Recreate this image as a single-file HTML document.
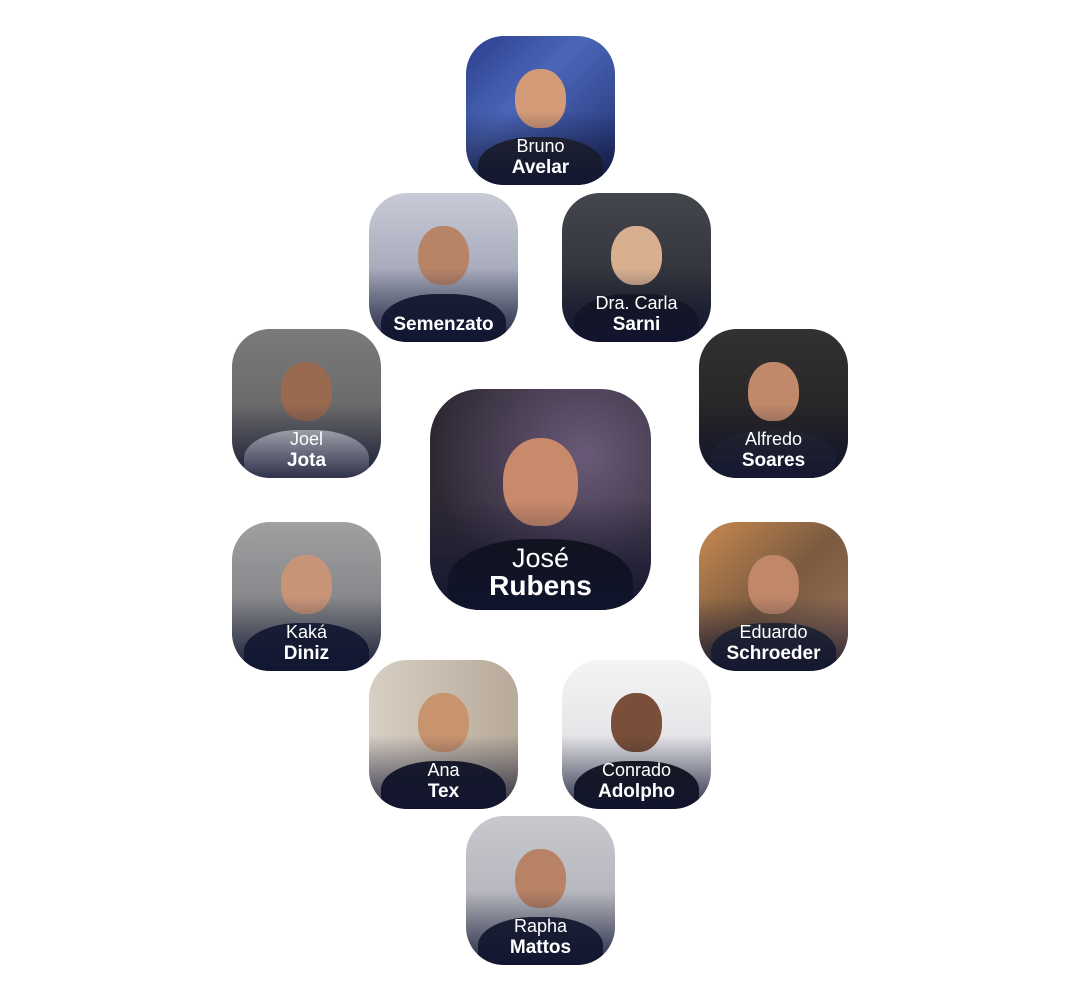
<!DOCTYPE html>
<html><head><meta charset="utf-8"><style>
html,body{margin:0;padding:0;background:#fff;width:1080px;height:1001px;overflow:hidden}
.t{position:absolute;width:149px;height:149px;border-radius:38px;overflow:hidden;font-family:"Liberation Sans",sans-serif;color:#fff;text-align:center}
.t .bg{position:absolute;inset:0}
.t .head{position:absolute;left:50%;top:22%;width:34%;height:40%;margin-left:-17%;border-radius:48% 48% 45% 45%;background:#c9906f}
.t .body{position:absolute;left:50%;bottom:-10%;width:84%;height:42%;margin-left:-42%;border-radius:45% 45% 0 0;background:#1c1e2a}
.t .fade{position:absolute;left:0;right:0;bottom:0;height:50%;background:linear-gradient(to bottom,rgba(20,24,50,0),rgba(16,20,48,.85))}
.t .txt{position:absolute;left:0;right:0;bottom:7px;font-size:18px;line-height:21px}
.t .txt b{font-size:19px;font-weight:bold;display:block}
.big{width:221px;height:221px;border-radius:50px}
.big .txt{font-size:27px;line-height:28px;bottom:10px}
.big .txt b{font-size:28px}
</style></head><body>

<div class="t" style="left:466px;top:36px"><div class="bg" style="background:linear-gradient(135deg,#2b3f8c,#4b66b8 40%,#203070)"></div><div class="head" style="background:#d49b78"></div><div class="body" style="background:#222630"></div><div class="fade"></div><div class="txt">Bruno<b>Avelar</b></div></div>

<div class="t" style="left:369px;top:193px"><div class="bg" style="background:linear-gradient(to bottom,#c8cad6,#8a8fa2)"></div><div class="head" style="background:#b88468"></div><div class="body" style="background:#1d2236"></div><div class="fade"></div><div class="txt"><b>Semenzato</b></div></div>

<div class="t" style="left:562px;top:193px"><div class="bg" style="background:linear-gradient(to bottom,#44464e,#25262e)"></div><div class="head" style="background:#d8b090"></div><div class="body" style="background:#16171f"></div><div class="fade"></div><div class="txt">Dra. Carla<b>Sarni</b></div></div>

<div class="t" style="left:232px;top:329px"><div class="bg" style="background:linear-gradient(to bottom,#7a7a7a,#5c5c5e)"></div><div class="head" style="background:#9a6a50"></div><div class="body" style="background:#d8d8dc"></div><div class="fade"></div><div class="txt">Joel<b>Jota</b></div></div>

<div class="t" style="left:699px;top:329px"><div class="bg" style="background:linear-gradient(to bottom,#333030,#1f1e20)"></div><div class="head" style="background:#c08a6a"></div><div class="body" style="background:#2a2a2e"></div><div class="fade"></div><div class="txt">Alfredo<b>Soares</b></div></div>

<div class="t big" style="left:430px;top:389px"><div class="bg" style="background:radial-gradient(circle at 70% 30%,#6a5a78,#2e2834 70%)"></div><div class="head" style="background:#c88a6a"></div><div class="body" style="background:#121218"></div><div class="fade"></div><div class="txt">José<b>Rubens</b></div></div>

<div class="t" style="left:232px;top:522px"><div class="bg" style="background:linear-gradient(to bottom,#a0a0a2,#707276)"></div><div class="head" style="background:#c89478"></div><div class="body" style="background:#1c2238"></div><div class="fade"></div><div class="txt">Kaká<b>Diniz</b></div></div>

<div class="t" style="left:699px;top:522px"><div class="bg" style="background:linear-gradient(135deg,#c88a50,#7a5a40 50%,#a07860)"></div><div class="head" style="background:#c08868"></div><div class="body" style="background:#2a2c34"></div><div class="fade"></div><div class="txt">Eduardo<b>Schroeder</b></div></div>

<div class="t" style="left:369px;top:660px"><div class="bg" style="background:linear-gradient(to right,#d8cfc4,#b8aa9a)"></div><div class="head" style="background:#c8946e"></div><div class="body" style="background:#1a1c28"></div><div class="fade"></div><div class="txt">Ana<b>Tex</b></div></div>

<div class="t" style="left:562px;top:660px"><div class="bg" style="background:linear-gradient(to bottom,#f4f4f6,#d8d8dc)"></div><div class="head" style="background:#7a4e38"></div><div class="body" style="background:#1a1a1e"></div><div class="fade"></div><div class="txt">Conrado<b>Adolpho</b></div></div>

<div class="t" style="left:466px;top:816px"><div class="bg" style="background:linear-gradient(to bottom,#c8c8ce,#a6a8b0)"></div><div class="head" style="background:#b88266"></div><div class="body" style="background:#1e2436"></div><div class="fade"></div><div class="txt">Rapha<b>Mattos</b></div></div>

</body></html>
